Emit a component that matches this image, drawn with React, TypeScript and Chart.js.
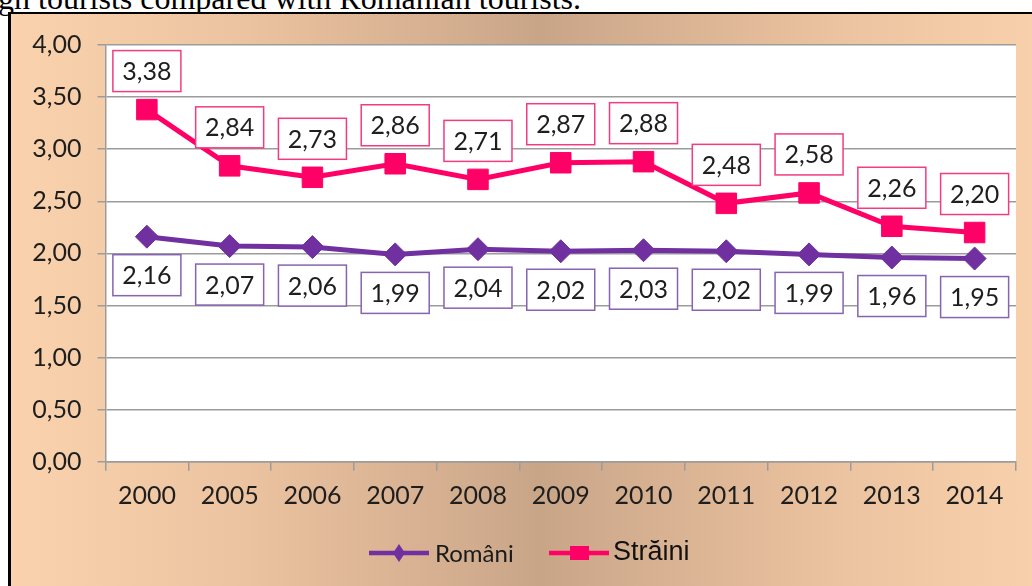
import React, { useEffect, useRef } from "react";
import { Chart, registerables } from "chart.js";

Chart.register(...registerables);

const years = ["2000", "2005", "2006", "2007", "2008", "2009", "2010", "2011", "2012", "2013", "2014"];
const romani = [2.16, 2.07, 2.06, 1.99, 2.04, 2.02, 2.03, 2.02, 1.99, 1.96, 1.95];
const straini = [3.38, 2.84, 2.73, 2.86, 2.71, 2.87, 2.88, 2.48, 2.58, 2.26, 2.2];
const seriesNames = ["Români", "Străini"];
const titleText = "gn tourists compared with Romanian tourists.";

const PURPLE = "#7030A0";
const PINK = "#FF0066";
const PURPLE_BOX = "#8664B0";
const PINK_BOX = "#F23C80";
const GRID = "#9C9C9C";

const fmt = (v: number) => v.toFixed(2).replace(".", ",");

const plotBg = {
  id: "plotBg",
  beforeDraw(chart: any) {
    const { ctx, chartArea: a } = chart;
    ctx.save();
    ctx.fillStyle = "#ffffff";
    ctx.fillRect(a.left, a.top, a.right - a.left, a.bottom - a.top);
    ctx.restore();
  },
};

const boxLabels = {
  id: "boxLabels",
  afterDatasetsDraw(chart: any) {
    const ctx = chart.ctx;
    chart.data.datasets.forEach((ds: any, i: number) => {
      const meta = chart.getDatasetMeta(i);
      const above = i === 1;
      const dy = above ? -38.5 : 38.5;
      const stroke = above ? PINK_BOX : PURPLE_BOX;
      meta.data.forEach((pt: any, j: number) => {
        const v = ds.data[j] as number;
        const cx = pt.x;
        const cy = pt.y + dy;
        const w = 68;
        const h = 41;
        ctx.save();
        ctx.fillStyle = "#ffffff";
        ctx.fillRect(cx - w / 2, cy - h / 2, w, h);
        ctx.strokeStyle = stroke;
        ctx.lineWidth = 1.5;
        ctx.strokeRect(cx - w / 2, cy - h / 2, w, h);
        ctx.fillStyle = "#1e1e1e";
        ctx.font = "25px Lato";
        ctx.textAlign = "center";
        ctx.textBaseline = "middle";
        ctx.fillText(fmt(v), cx, cy + 1);
        ctx.restore();
      });
    });
  },
};

const customLegend = {
  id: "customLegend",
  afterDraw(chart: any) {
    const ctx = chart.ctx;
    const y = 539;
    ctx.save();
    // Români
    let x0 = 358;
    ctx.strokeStyle = PURPLE;
    ctx.lineWidth = 4.5;
    ctx.beginPath();
    ctx.moveTo(x0, y);
    ctx.lineTo(x0 + 60, y);
    ctx.stroke();
    ctx.fillStyle = PURPLE;
    ctx.beginPath();
    ctx.moveTo(x0 + 30, y - 9);
    ctx.lineTo(x0 + 36, y);
    ctx.lineTo(x0 + 30, y + 9);
    ctx.lineTo(x0 + 24, y);
    ctx.closePath();
    ctx.fill();
    ctx.fillStyle = "#1a1a1a";
    ctx.font = "24px Lato";
    ctx.textAlign = "left";
    ctx.textBaseline = "middle";
    ctx.fillText(seriesNames[0], x0 + 66, y + 1);
    // Străini
    x0 = 538;
    ctx.strokeStyle = PINK;
    ctx.beginPath();
    ctx.moveTo(x0, y);
    ctx.lineTo(x0 + 60, y);
    ctx.stroke();
    ctx.fillStyle = PINK;
    ctx.fillRect(x0 + 21, y - 7, 19, 14);
    ctx.fillStyle = "#111111";
    ctx.font = "27px 'Liberation Sans'";
    ctx.fillText(seriesNames[1], x0 + 64, y);
    ctx.restore();
  },
};

export default function App() {
  const ref = useRef<HTMLCanvasElement | null>(null);

  useEffect(() => {
    if (!ref.current) return;
    const chart = new Chart(ref.current, {
      type: "line",
      data: {
        labels: years,
        datasets: [
          {
            label: seriesNames[0],
            data: romani,
            borderColor: PURPLE,
            backgroundColor: PURPLE,
            borderWidth: 5,
            pointStyle: "rectRot",
            pointRadius: 11.5,
            pointBorderWidth: 1,
            pointBackgroundColor: PURPLE,
            pointBorderColor: PURPLE,
            tension: 0,
          },
          {
            label: seriesNames[1],
            data: straini,
            borderColor: PINK,
            backgroundColor: PINK,
            borderWidth: 5,
            pointStyle: "rect",
            pointRadius: 14.5,
            pointBorderWidth: 1,
            pointBackgroundColor: PINK,
            pointBorderColor: PINK,
            tension: 0,
          },
        ],
      },
      options: {
        animation: false,
        responsive: false,
        maintainAspectRatio: false,
        layout: { padding: { left: 0, right: 54, top: 29.5, bottom: 74.3 } },
        plugins: {
          legend: { display: false },
          tooltip: { enabled: false },
          title: { display: false },
        },
        scales: {
          x: {
            offset: true,
            afterFit: (s: any) => {
              s.height = 60;
            },
            grid: {
              offset: true,
              drawOnChartArea: false,
              drawTicks: true,
              tickLength: 9,
              color: GRID,
              lineWidth: 1.5,
            },
            border: { display: true, color: GRID, width: 1.5 },
            ticks: {
              color: "#1e1e1e",
              font: { family: "Lato", size: 25 },
              padding: 10,
              maxRotation: 0,
              autoSkip: false,
            },
          },
          y: {
            min: 0,
            max: 4,
            afterFit: (s: any) => {
              s.width = 94.5;
            },
            grid: {
              color: GRID,
              lineWidth: 1.5,
              drawTicks: true,
              tickLength: 8,
            },
            border: { display: true, color: GRID, width: 1.5 },
            ticks: {
              stepSize: 0.5,
              color: "#1e1e1e",
              font: { family: "Lato", size: 25 },
              padding: 16,
              callback: (v: any) => fmt(Number(v)),
            },
          },
        },
      },
      plugins: [plotBg, boxLabels, customLegend],
    } as any);
    return () => chart.destroy();
  }, []);

  return (
    <div
      style={{
        position: "fixed",
        left: 0,
        top: 0,
        width: 1032,
        height: 586,
        overflow: "hidden",
        background: "#ffffff",
      }}
    >
      <div
        style={{
          position: "absolute",
          left: -2,
          top: -18,
          fontFamily: "'Liberation Serif', serif",
          fontSize: 32,
          lineHeight: "32px",
          whiteSpace: "nowrap",
          color: "#000",
        }}
      >
        {titleText}
      </div>
      <div
        style={{
          position: "absolute",
          left: 8,
          top: 12,
          width: 1062,
          height: 600,
          boxSizing: "border-box",
          borderLeft: "3px solid #000",
          borderTop: "2px solid #000",
          background:
            "linear-gradient(90deg, #FAD3AE 0%, #ECC3A0 22%, #C9A588 50%, #ECC3A0 78%, #FAD3AE 100%)",
        }}
      >
        <canvas ref={ref} width={1059} height={582} style={{ display: "block", width: 1059, height: 582 }} />
      </div>
    </div>
  );
}
